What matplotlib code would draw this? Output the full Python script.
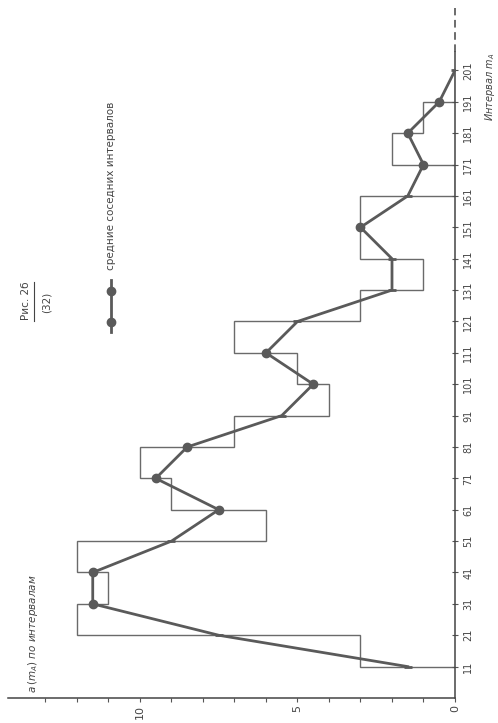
import matplotlib
matplotlib.use("Agg")
import matplotlib.pyplot as plt
from matplotlib.lines import Line2D

# interval boundaries m_A
edges = [11, 21, 31, 41, 51, 61, 71, 81, 91, 101,
         111, 121, 131, 141, 151, 161, 171, 181, 191, 201]
# a(m_A) for each interval
counts = [3, 12, 11, 12, 6, 9, 10, 7, 4, 5, 7, 3, 1, 3, 3, 0, 2, 1, 0]
# means of neighbouring intervals, at the boundaries
means = [1.5, 7.5, 11.5, 11.5, 9, 7.5, 9.5, 8.5, 5.5, 4.5,
         6, 5, 2, 2, 3, 1.5, 1, 1.5, 0.5, 0]
# boundaries drawn with a big dot (others get a small dash)
big_dots = [31, 41, 61, 71, 81, 101, 111, 151, 171, 181, 191]

value_ticks = [0, 5, 10]
ma_ticks = edges

W, H = 498, 723
fig = plt.figure(figsize=(W / 100, H / 100), dpi=100)

def fx(px):
    return px / W

def fy(py):
    return 1 - py / H

# axes in the rotated layout: value runs leftwards, m_A runs upwards
ax = fig.add_axes([fx(8), fy(698), fx(455) - fx(8), fy(8) - fy(698)])
ax.set_xlim(14.19, 0)
ax.set_ylim(1, 220.9)

grey = "#5a5a5a"
ax.stairs(counts, edges, orientation="horizontal", baseline=0, fill=False,
          color="#6a6a6a", lw=1.0)

ax.plot(means, edges, color=grey, lw=2.0, zorder=3)
bx = [m for m, e in zip(means, edges) if e in big_dots]
by = [e for e in edges if e in big_dots]
sx = [m for m, e in zip(means, edges) if e not in big_dots]
sy = [e for e in edges if e not in big_dots]
ax.plot(bx, by, "o", color=grey, ms=6, zorder=4)
ax.plot(sx, sy, "_", color=grey, ms=6, mew=2, zorder=4)

for s in ["top", "left", "right"]:
    ax.spines[s].set_visible(False)
ax.spines["bottom"].set_color("#444444")
ax.spines["bottom"].set_linewidth(1.1)

# m_A axis: solid then dashed
ax.plot([0, 0], [1, 207], color="#444444", lw=1.1, clip_on=False)
ax.plot([0, 0], [207, 221], color="#444444", lw=1.1, ls=(0, (5, 3)), clip_on=False)

ax.set_xticks(value_ticks)
ax.set_xticks(range(1, 14), minor=True)
ax.set_xticklabels([str(v) for v in value_ticks], rotation=90)
ax.tick_params(axis="x", which="both", length=3, width=0.8, color="#555555",
               labelsize=8, labelcolor="#444444", pad=2)

ax.yaxis.tick_right()
ax.set_yticks(ma_ticks)
ax.set_yticklabels([str(v) for v in ma_ticks], rotation=90, va="center")
ax.tick_params(axis="y", length=4, width=0.8, direction="inout", color="#555555",
               labelsize=7, labelcolor="#444444", pad=4)

# texts
fig.text(fx(490), fy(87), r"Интервал $m_A$", rotation=90, style="italic",
         fontsize=7, color="#444444", ha="center", va="center")
fig.text(fx(33), fy(634), r"$a\,(m_A)$ по интервалам", rotation=90, style="italic",
         fontsize=7.5, color="#444444", ha="center", va="center")
fig.text(fx(26), fy(301), "Рис. 2б", rotation=90, fontsize=7.5,
         color="#444444", ha="center", va="center")
fig.add_artist(Line2D([fx(34), fx(34)], [fy(282), fy(321)], color="#444444", lw=0.8))
fig.text(fx(47), fy(302), "(32)", rotation=90, fontsize=7.5,
         color="#444444", ha="center", va="center")

# legend sample
fig.add_artist(Line2D([fx(111), fx(111)], [fy(280), fy(332)], color=grey, lw=2.0))
fig.add_artist(Line2D([fx(111), fx(111)], [fy(291), fy(322)], ls="none", marker="o",
                      ms=6, color=grey))
fig.text(fx(111), fy(186), "средние соседних интервалов", rotation=90, fontsize=7.5,
         color="#444444", ha="center", va="center")

fig.savefig("out.png", dpi=100)
